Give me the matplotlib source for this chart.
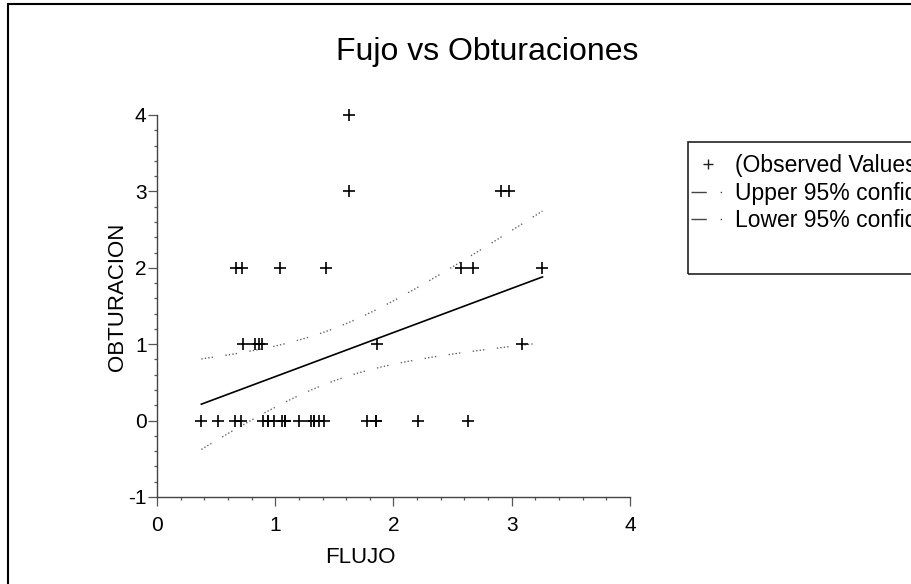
import matplotlib.pyplot as plt
import numpy as np
from matplotlib.lines import Line2D
from matplotlib.patches import Rectangle

plt.rcParams['font.family'] = ['Liberation Sans', 'DejaVu Sans']
plt.rcParams['axes.unicode_minus'] = False

# FLUJO values, grouped by OBTURACION value
# (some marks in the dense row at 0 are drawn twice on the same spot)
flujo_obt0 = [0.375, 0.52, 0.66, 0.71, 0.90, 0.94, 0.94, 0.99, 1.06, 1.08, 1.08,
              1.20, 1.30, 1.33, 1.33, 1.37, 1.41, 1.78, 1.85, 1.85, 2.21, 2.63]
flujo_obt1 = [0.73, 0.83, 0.86, 0.89, 1.86, 3.09]
flujo_obt2 = [0.67, 0.72, 1.04, 1.43, 2.57, 2.67, 3.26]
flujo_obt3 = [1.62, 2.91, 2.98]
flujo_obt4 = [1.62]

x = np.array(flujo_obt0 + flujo_obt1 + flujo_obt2 + flujo_obt3 + flujo_obt4)
y = np.array([0] * len(flujo_obt0) + [1] * len(flujo_obt1) + [2] * len(flujo_obt2)
             + [3] * len(flujo_obt3) + [4] * len(flujo_obt4), dtype=float)

# least squares line and 95% confidence band for the mean
n = len(x)
slope, intercept = np.polyfit(x, y, 1)
resid = y - (slope * x + intercept)
s = np.sqrt(np.sum(resid ** 2) / (n - 2))
sxx = np.sum((x - x.mean()) ** 2)
t_crit = 2.026
xs = np.linspace(x.min(), x.max(), 200)
fit = slope * xs + intercept
half = t_crit * s * np.sqrt(1 / n + (xs - x.mean()) ** 2 / sxx)

fig = plt.figure(figsize=(9.12, 5.84), dpi=100)
ax = fig.add_axes([157 / 912, 87 / 584, 473 / 912, 382 / 584])

band_style = dict(color='#666666', lw=1.0, linestyle=(0, (1, 1.5, 1, 1.5, 1, 1.5, 1, 9)))
ax.plot(xs, fit + half, **band_style)
ax.plot(xs, fit - half, **band_style)
ax.plot(xs, fit, color='black', lw=1.2)
ax.plot(x, y, linestyle='none', marker='+', markersize=9, mew=1.2, color='black',
        clip_on=False)

ax.set_xlim(0, 4)
ax.set_ylim(-1, 4)
ax.set_xticks([0, 1, 2, 3, 4])
ax.set_yticks([-1, 0, 1, 2, 3, 4])
ax.set_xticks(np.arange(0, 4.01, 0.2), minor=True)
ax.set_yticks(np.arange(-1, 4.01, 0.2), minor=True)
ax.spines['top'].set_visible(False)
ax.spines['right'].set_visible(False)
for sp in ('left', 'bottom'):
    ax.spines[sp].set_color('#444444')
    ax.spines[sp].set_linewidth(1.0)
ax.tick_params(which='major', length=6.5, width=0.9, color='#555555', labelsize=15)
ax.tick_params(axis='x', which='major', pad=7)
ax.tick_params(axis='y', which='major', pad=1)
ax.tick_params(which='minor', length=2, width=0.9, color='#555555')

ax.set_xlabel('FLUJO', fontsize=16)
ax.xaxis.set_label_coords(0.429, -0.13)
ax.set_ylabel('OBTURACION', fontsize=16)
ax.yaxis.set_label_coords(-0.062, 0.524)

fig.text(487 / 912, 1 - 52 / 584, 'Fujo vs Obturaciones', fontsize=23,
         ha='center', va='center')

# legend, its frame runs past the right edge of the picture
handles = [
    Line2D([], [], linestyle='none', marker='+', markersize=7, mew=1.0, color='#222222'),
    Line2D([], [], color='#444444', lw=1.0, linestyle=(0, (11, 10, 1, 20))),
    Line2D([], [], color='#444444', lw=1.0, linestyle=(0, (11, 10, 1, 20))),
]
labels = ['(Observed Values)', 'Upper 95% confidence limit', 'Lower 95% confidence limit']
ax.legend(handles, labels, loc='upper left', bbox_to_anchor=(691 / 912, 1 - 154 / 584),
          bbox_transform=fig.transFigure, frameon=False, fontsize=16.5,
          handlelength=1.5, handletextpad=0.4, labelspacing=0.2, borderpad=0,
          borderaxespad=0)
fig.add_artist(Rectangle((688 / 912, 1 - 274 / 584), 0.5, 132 / 584,
                         transform=fig.transFigure, fill=False, ec='#222222', lw=1.2))

# outer frame of the graph window
fig.add_artist(Rectangle((8 / 912, -0.1), 1.2, 1.1 - 4 / 584,
                         transform=fig.transFigure, fill=False, ec='black', lw=1.5))

fig.savefig('out.png', dpi=100)
